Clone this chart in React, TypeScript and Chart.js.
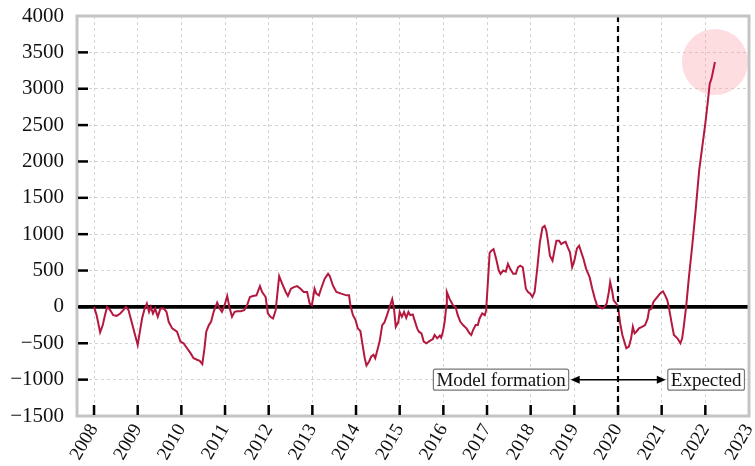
import React, { useEffect, useRef } from "react";
import { Chart, registerables } from "chart.js";

Chart.register(...registerables);

// Decimal-year positions of the traced series
const years = [
  2008.0, 2008.06, 2008.14, 2008.2, 2008.25, 2008.3, 2008.37, 2008.44, 2008.52, 2008.6,
  2008.67, 2008.73, 2008.79, 2008.86, 2008.94, 2009.0, 2009.05, 2009.1, 2009.15, 2009.21,
  2009.26, 2009.3, 2009.35, 2009.4, 2009.46, 2009.52, 2009.6, 2009.66, 2009.71, 2009.79,
  2009.9, 2009.98, 2010.05, 2010.13, 2010.21, 2010.28, 2010.36, 2010.42, 2010.48, 2010.53,
  2010.57, 2010.63, 2010.68, 2010.74, 2010.82, 2010.88, 2010.93, 2010.99, 2011.05, 2011.1,
  2011.16, 2011.22, 2011.28, 2011.36, 2011.44, 2011.5, 2011.57, 2011.64, 2011.72, 2011.8,
  2011.85, 2011.93, 2011.98, 2012.04, 2012.1, 2012.16, 2012.24, 2012.31, 2012.39, 2012.44,
  2012.51, 2012.58, 2012.65, 2012.73, 2012.8, 2012.88, 2012.94, 2012.99, 2013.05, 2013.09,
  2013.15, 2013.2, 2013.28, 2013.36, 2013.4, 2013.47, 2013.55, 2013.66, 2013.78, 2013.84,
  2013.87, 2013.93, 2013.99, 2014.04, 2014.1, 2014.15, 2014.2, 2014.24, 2014.3, 2014.35,
  2014.4, 2014.44, 2014.47, 2014.54, 2014.6, 2014.65, 2014.71, 2014.77, 2014.83, 2014.87,
  2014.91, 2014.97, 2015.0, 2015.05, 2015.1, 2015.15, 2015.2, 2015.24, 2015.3, 2015.34,
  2015.4, 2015.44, 2015.5, 2015.55, 2015.61, 2015.69, 2015.76, 2015.8, 2015.86, 2015.92,
  2015.95, 2015.99, 2016.03, 2016.07, 2016.08, 2016.14, 2016.22, 2016.28, 2016.33, 2016.39,
  2016.45, 2016.53, 2016.6, 2016.64, 2016.68, 2016.74, 2016.79, 2016.83, 2016.89, 2016.95,
  2016.98, 2017.02, 2017.06, 2017.1, 2017.15, 2017.21, 2017.27, 2017.31, 2017.37, 2017.43,
  2017.48, 2017.53, 2017.6, 2017.66, 2017.71, 2017.76, 2017.82, 2017.89, 2017.94, 2017.99,
  2018.04, 2018.09, 2018.15, 2018.21, 2018.27, 2018.32, 2018.36, 2018.4, 2018.44, 2018.5,
  2018.55, 2018.59, 2018.65, 2018.7, 2018.76, 2018.8, 2018.85, 2018.9, 2018.95, 2019.0,
  2019.06, 2019.11, 2019.16, 2019.21, 2019.27, 2019.35, 2019.41, 2019.47, 2019.52, 2019.58,
  2019.64, 2019.69, 2019.74, 2019.79, 2019.82, 2019.87, 2019.9, 2019.96, 2020.0, 2020.05,
  2020.1, 2020.19, 2020.25, 2020.3, 2020.34, 2020.38, 2020.42, 2020.48, 2020.55, 2020.62,
  2020.68, 2020.71, 2020.77, 2020.81, 2020.87, 2020.93, 2020.98, 2021.03, 2021.08, 2021.13,
  2021.17, 2021.23, 2021.28, 2021.36, 2021.43, 2021.47, 2021.51, 2021.56, 2021.62, 2021.7,
  2021.78, 2021.86, 2021.93, 2022.0, 2022.06, 2022.1, 2022.14, 2022.18, 2022.22,
];

const values = [
  0, -114, -350, -250, -114, 0, -45, -114, -123, -90,
  -45, 0, -45, -205, -386, -523, -341, -159, -45, 45,
  -68, 0, -90, -23, -136, -23, -23, -68, -205, -295,
  -341, -477, -500, -568, -636, -705, -727, -741, -786, -568,
  -341, -250, -205, -68, 59, -23, -68, 23, 150, 0,
  -136, -68, -59, -59, -45, 14, 136, 150, 159, 286,
  205, 136, -90, -136, -159, -45, 423, 318, 205, 150,
  250, 273, 286, 250, 205, 205, 45, 23, 250, 182,
  159, 250, 386, 455, 423, 295, 205, 182, 159, 159,
  23, -114, -182, -295, -332, -523, -705, -805, -750, -682,
  -659, -705, -636, -477, -250, -214, -114, 0, 105, -23,
  -273, -205, -68, -136, -68, -150, -68, -114, -105, -182,
  -295, -341, -364, -477, -500, -468, -441, -386, -432, -395,
  -423, -341, -205, 23, 205, 114, 23, 0, -114, -205,
  -250, -295, -364, -386, -318, -250, -250, -159, -90, -114,
  -45, 341, 741, 773, 795, 659, 500, 455, 500, 486,
  591, 523, 455, 455, 545, 568, 545, 250, 205, 182,
  136, 205, 523, 886, 1091, 1114, 1045, 886, 705, 636,
  795, 909, 909, 864, 886, 895, 818, 750, 545, 636,
  805, 841, 750, 659, 523, 409, 250, 114, 23, 0,
  -23, 0, 45, 205, 341, 205, 91, 45, 0, -227,
  -386, -568, -545, -432, -273, -364, -341, -295, -273, -250,
  -159, -45, -23, 68, 114, 159, 195, 214, 159, 91,
  -23, -227, -386, -432, -500, -432, -250, 0, 386, 841,
  1341, 1886, 2205, 2523, 2841, 3068, 3136, 3250, 3367,
];

const xTickYears = [2008, 2009, 2010, 2011, 2012, 2013, 2014, 2015, 2016, 2017, 2018, 2019, 2020, 2021, 2022, 2023];
const yTickValues = [-1500, -1000, -500, 0, 500, 1000, 1500, 2000, 2500, 3000, 3500, 4000];

const splitYear = 2020;
const arrowLevel = -1000;
const leftNote = "Model formation";
const rightNote = "Expected";
const leftNoteRightEdge = 2018.87;
const rightNoteLeftEdge = 2021.14;

const LINE_COLOR = "#b5183f";
const SERIF = '"Liberation Serif", "Times New Roman", serif';

function drawArrowHead(ctx: CanvasRenderingContext2D, x: number, y: number, dir: number) {
  ctx.beginPath();
  ctx.moveTo(x, y);
  ctx.lineTo(x - dir * 9, y - 4);
  ctx.lineTo(x - dir * 9, y + 4);
  ctx.closePath();
  ctx.fill();
}

function drawNote(ctx: CanvasRenderingContext2D, text: string, edgeX: number, y: number, alignRight: boolean) {
  ctx.font = `19px ${SERIF}`;
  const w = ctx.measureText(text).width + 6;
  const h = 21;
  const left = alignRight ? edgeX - w : edgeX;
  ctx.beginPath();
  (ctx as any).roundRect ? (ctx as any).roundRect(left, y - h / 2, w, h, 2) : ctx.rect(left, y - h / 2, w, h);
  ctx.fillStyle = "#ffffff";
  ctx.fill();
  ctx.strokeStyle = "#777777";
  ctx.lineWidth = 1.2;
  ctx.stroke();
  ctx.fillStyle = "#111111";
  ctx.textAlign = "left";
  ctx.textBaseline = "middle";
  ctx.fillText(text, left + 3, y + 1);
}

const decorPlugin = {
  id: "decor",
  beforeDatasetsDraw(chart: any) {
    const { ctx, chartArea: a, scales } = chart;
    const y0 = scales.y.getPixelForValue(0);
    ctx.save();
    ctx.strokeStyle = "#000";
    ctx.lineWidth = 3.8;
    ctx.beginPath();
    ctx.moveTo(a.left, y0);
    ctx.lineTo(a.right, y0);
    ctx.stroke();
    ctx.restore();
  },
  afterDatasetsDraw(chart: any) {
    const { ctx, chartArea: a, scales } = chart;
    const xs = scales.x;
    const ys = scales.y;
    ctx.save();
    const xSplit = xs.getPixelForValue(splitYear);
    ctx.strokeStyle = "#000";
    ctx.lineWidth = 2.2;
    ctx.setLineDash([6, 4]);
    ctx.beginPath();
    ctx.moveTo(xSplit, a.top);
    ctx.lineTo(xSplit, a.bottom);
    ctx.stroke();
    ctx.setLineDash([]);

    const yA = ys.getPixelForValue(arrowLevel);
    const xL = xs.getPixelForValue(leftNoteRightEdge) + 2;
    const xR = xs.getPixelForValue(rightNoteLeftEdge) - 2;
    ctx.lineWidth = 1.5;
    ctx.fillStyle = "#000";
    ctx.beginPath();
    ctx.moveTo(xL + 6, yA);
    ctx.lineTo(xR - 6, yA);
    ctx.stroke();
    drawArrowHead(ctx, xL, yA, -1);
    drawArrowHead(ctx, xR, yA, 1);

    drawNote(ctx, leftNote, xs.getPixelForValue(leftNoteRightEdge), yA, true);
    drawNote(ctx, rightNote, xs.getPixelForValue(rightNoteLeftEdge), yA, false);

    ctx.strokeStyle = "#c4c4c4";
    ctx.lineWidth = 3;
    ctx.strokeRect(a.left, a.top, a.right - a.left, a.bottom - a.top);

    ctx.strokeStyle = "#000";
    ctx.lineWidth = 2.5;
    yTickValues.forEach((v) => {
      if (v === -1500 || v === 4000) return;
      const py = ys.getPixelForValue(v);
      ctx.beginPath();
      ctx.moveTo(a.left + 1, py);
      ctx.lineTo(a.left + 11, py);
      ctx.stroke();
    });
    xTickYears.forEach((yr) => {
      if (yr === 2023) return;
      const px = xs.getPixelForValue(yr);
      ctx.beginPath();
      ctx.moveTo(px, a.bottom - 1);
      ctx.lineTo(px, a.bottom - 11);
      ctx.stroke();
    });
    ctx.restore();
  },
};

export default function App() {
  const ref = useRef<HTMLCanvasElement | null>(null);

  useEffect(() => {
    if (!ref.current) return;
    const points = years.map((yr, i) => ({ x: yr, y: values[i] }));
    const last = points[points.length - 1];
    const chart = new Chart(ref.current, {
      type: "line",
      data: {
        datasets: [
          {
            label: "series",
            data: points,
            borderColor: LINE_COLOR,
            borderWidth: 2,
            pointRadius: 0,
            tension: 0,
            fill: false,
            order: 1,
          },
          {
            label: "highlight",
            data: [last],
            showLine: false,
            pointRadius: 33,
            pointHoverRadius: 33,
            backgroundColor: "rgba(250,150,160,0.32)",
            borderWidth: 0,
            clip: false,
            order: 2,
          },
        ],
      },
      options: {
        animation: false,
        responsive: false,
        devicePixelRatio: 1,
        layout: { autoPadding: false, padding: { top: 16, right: 6, left: 0, bottom: 0 } },
        plugins: { legend: { display: false }, tooltip: { enabled: false } },
        scales: {
          x: {
            type: "linear",
            min: 2007.61,
            max: 2023,
            afterBuildTicks: (s: any) => {
              s.ticks = xTickYears.map((v) => ({ value: v }));
            },
            afterFit: (s: any) => {
              s.height = 50;
              s.paddingLeft = 0;
              s.paddingRight = 0;
            },
            ticks: {
              autoSkip: false,
              maxRotation: 60,
              minRotation: 60,
              padding: 4,
              color: "#111",
              font: { family: SERIF, size: 19 },
              callback: (v: any) => String(v),
            },
            grid: { color: "#d4d4d4", lineWidth: 1, drawTicks: false },
            border: { display: false, dash: [3, 3] },
          },
          y: {
            type: "linear",
            min: -1500,
            max: 4000,
            afterBuildTicks: (s: any) => {
              s.ticks = yTickValues.map((v) => ({ value: v }));
            },
            afterFit: (s: any) => {
              s.width = 77;
              s.paddingTop = 0;
              s.paddingBottom = 0;
            },
            ticks: {
              padding: 13,
              color: "#111",
              font: { family: SERIF, size: 21 },
              callback: (v: any) => (v < 0 ? "\u2212" + String(-v) : String(v)),
            },
            grid: { color: "#d4d4d4", lineWidth: 1, drawTicks: false },
            border: { display: false, dash: [3, 3] },
          },
        },
      },
      plugins: [decorPlugin],
    } as any);
    return () => chart.destroy();
  }, []);

  return (
    <div style={{ position: "absolute", left: 0, top: 0, width: 755, height: 466, background: "#fff" }}>
      <canvas ref={ref} width={755} height={466} style={{ display: "block" }} />
    </div>
  );
}
